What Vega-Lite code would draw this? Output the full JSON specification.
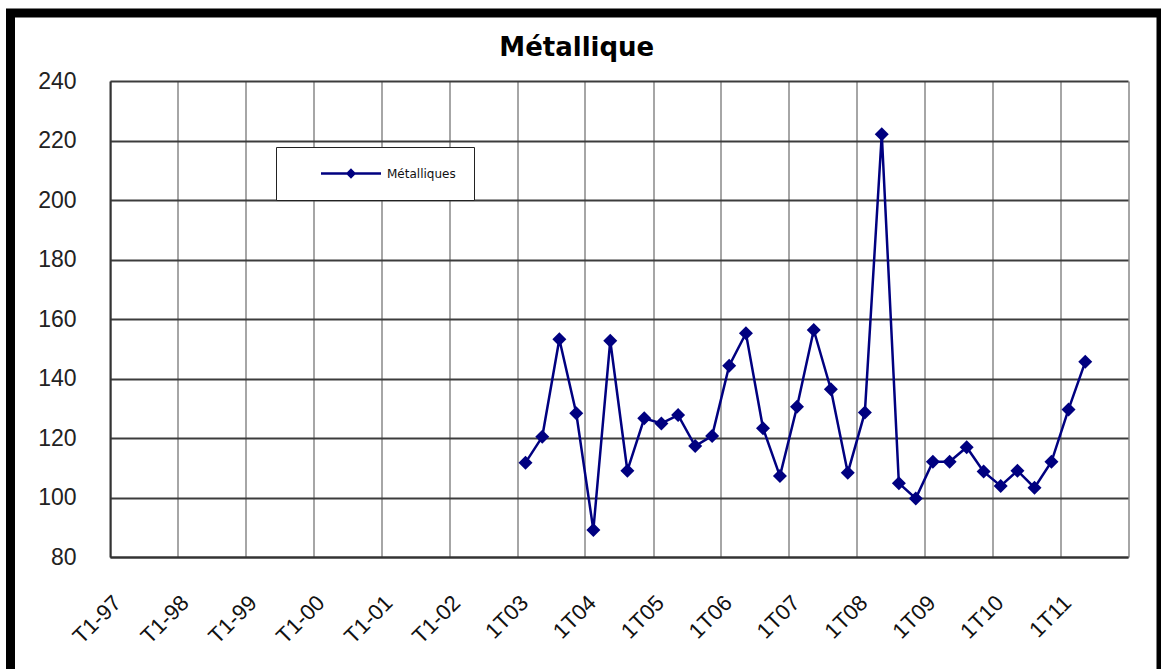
{
  "$schema": "https://vega.github.io/schema/vega-lite/v6.json",
  "autosize": "none",
  "width": 1150.5,
  "height": 666,
  "padding": {"left": 10.5, "top": 13, "right": 0, "bottom": -10},
  "background": "white",
  "title": {
    "text": "Métallique",
    "font": "DejaVu Sans",
    "fontSize": 26,
    "fontWeight": "bold",
    "color": "black",
    "anchor": "middle",
    "frame": "group",
    "offset": -48,
    "dx": -9
  },
  "data": {
    "values": [
      {"trimestre": "2003-02-15", "indice": 111.7, "serie": "Métalliques"},
      {"trimestre": "2003-05-16", "indice": 120.4, "serie": "Métalliques"},
      {"trimestre": "2003-08-16", "indice": 153.2, "serie": "Métalliques"},
      {"trimestre": "2003-11-15", "indice": 128.3, "serie": "Métalliques"},
      {"trimestre": "2004-02-15", "indice": 89.1, "serie": "Métalliques"},
      {"trimestre": "2004-05-16", "indice": 152.7, "serie": "Métalliques"},
      {"trimestre": "2004-08-16", "indice": 109.0, "serie": "Métalliques"},
      {"trimestre": "2004-11-15", "indice": 126.6, "serie": "Métalliques"},
      {"trimestre": "2005-02-15", "indice": 124.9, "serie": "Métalliques"},
      {"trimestre": "2005-05-16", "indice": 127.7, "serie": "Métalliques"},
      {"trimestre": "2005-08-16", "indice": 117.3, "serie": "Métalliques"},
      {"trimestre": "2005-11-15", "indice": 120.7, "serie": "Métalliques"},
      {"trimestre": "2006-02-15", "indice": 144.3, "serie": "Métalliques"},
      {"trimestre": "2006-05-16", "indice": 155.2, "serie": "Métalliques"},
      {"trimestre": "2006-08-16", "indice": 123.3, "serie": "Métalliques"},
      {"trimestre": "2006-11-15", "indice": 107.2, "serie": "Métalliques"},
      {"trimestre": "2007-02-15", "indice": 130.5, "serie": "Métalliques"},
      {"trimestre": "2007-05-16", "indice": 156.3, "serie": "Métalliques"},
      {"trimestre": "2007-08-16", "indice": 136.4, "serie": "Métalliques"},
      {"trimestre": "2007-11-15", "indice": 108.3, "serie": "Métalliques"},
      {"trimestre": "2008-02-15", "indice": 128.6, "serie": "Métalliques"},
      {"trimestre": "2008-05-16", "indice": 222.1, "serie": "Métalliques"},
      {"trimestre": "2008-08-16", "indice": 104.8, "serie": "Métalliques"},
      {"trimestre": "2008-11-15", "indice": 99.7, "serie": "Métalliques"},
      {"trimestre": "2009-02-15", "indice": 112.0, "serie": "Métalliques"},
      {"trimestre": "2009-05-16", "indice": 112.0, "serie": "Métalliques"},
      {"trimestre": "2009-08-16", "indice": 116.9, "serie": "Métalliques"},
      {"trimestre": "2009-11-15", "indice": 108.7, "serie": "Métalliques"},
      {"trimestre": "2010-02-15", "indice": 103.9, "serie": "Métalliques"},
      {"trimestre": "2010-05-16", "indice": 109.0, "serie": "Métalliques"},
      {"trimestre": "2010-08-16", "indice": 103.3, "serie": "Métalliques"},
      {"trimestre": "2010-11-15", "indice": 112.0, "serie": "Métalliques"},
      {"trimestre": "2011-02-15", "indice": 129.6, "serie": "Métalliques"},
      {"trimestre": "2011-05-16", "indice": 145.6, "serie": "Métalliques"}
    ]
  },
  "mark": {
    "type": "line",
    "strokeWidth": 2.5,
    "point": {"shape": "diamond", "size": 196, "filled": true, "opacity": 1}
  },
  "encoding": {
    "x": {
      "field": "trimestre",
      "type": "temporal",
      "scale": {
        "type": "utc",
        "domain": [
          {"year": 1997, "month": 1, "date": 1, "utc": true},
          {"year": 2012, "month": 1, "date": 1, "utc": true}
        ],
        "range": [99.5, 1117.5],
        "nice": false
      },
      "axis": {
        "title": null,
        "orient": "top",
        "offset": -544,
        "values": [
          {"year": 1997, "month": 1, "date": 1, "utc": true},
          {"year": 1998, "month": 1, "date": 1, "utc": true},
          {"year": 1999, "month": 1, "date": 1, "utc": true},
          {"year": 2000, "month": 1, "date": 1, "utc": true},
          {"year": 2001, "month": 1, "date": 1, "utc": true},
          {"year": 2002, "month": 1, "date": 1, "utc": true},
          {"year": 2003, "month": 1, "date": 1, "utc": true},
          {"year": 2004, "month": 1, "date": 1, "utc": true},
          {"year": 2005, "month": 1, "date": 1, "utc": true},
          {"year": 2006, "month": 1, "date": 1, "utc": true},
          {"year": 2007, "month": 1, "date": 1, "utc": true},
          {"year": 2008, "month": 1, "date": 1, "utc": true},
          {"year": 2009, "month": 1, "date": 1, "utc": true},
          {"year": 2010, "month": 1, "date": 1, "utc": true},
          {"year": 2011, "month": 1, "date": 1, "utc": true},
          {"year": 2012, "month": 1, "date": 1, "utc": true}
        ],
        "labelExpr": "utcyear(datum.value) >= 2012 ? '' : (utcyear(datum.value) < 2003 ? 'T1-' : '1T') + utcFormat(datum.value, '%y')",
        "labelAngle": -45,
        "labelAlign": "right",
        "labelBaseline": "middle",
        "labelPadding": -42,
        "labelOffset": 7,
        "labelFont": "Liberation Sans",
        "labelFontSize": 22,
        "labelColor": "#111111",
        "labelOverlap": false,
        "labelFlush": false,
        "labelBound": false,
        "ticks": false,
        "tickSize": 0,
        "domain": true,
        "domainColor": "#333333",
        "domainWidth": 2,
        "grid": true,
        "gridColor": "#a6a6a6",
        "gridWidth": 2
      }
    },
    "y": {
      "field": "indice",
      "type": "quantitative",
      "scale": {"domain": [80, 240], "range": [544, 68], "nice": false, "zero": false},
      "axis": {
        "title": null,
        "offset": -99.5,
        "values": [80, 100, 120, 140, 160, 180, 200, 220, 240],
        "labelPadding": 34,
        "labelFont": "Liberation Sans",
        "labelFontSize": 23,
        "labelColor": "#222222",
        "labelFlush": false,
        "ticks": false,
        "domain": true,
        "domainColor": "#333333",
        "domainWidth": 2,
        "grid": true,
        "gridColor": "#3c3c3c",
        "gridWidth": 2
      }
    },
    "color": {
      "field": "serie",
      "type": "nominal",
      "scale": {"range": ["#000080"]},
      "legend": {
        "title": null,
        "orient": "none",
        "legendX": 265.5,
        "legendY": 134,
        "padding": 17.5,
        "fillColor": "white",
        "strokeColor": "#222222",
        "symbolType": "M-4,0H4M0,-0.45L0.45,0L0,0.45L-0.45,0Z",
        "symbolSize": 225,
        "symbolStrokeWidth": 2.5,
        "symbolFillColor": "#000080",
        "symbolStrokeColor": "#000080",
        "symbolOffset": 48.5,
        "labelOffset": 27,
        "labelExpr": "datum.label + '\u00a0\u00a0\u00a0\u00a0'",
        "labelFont": "DejaVu Sans",
        "labelFontSize": 12,
        "labelColor": "#111111"
      }
    }
  },
  "config": {
    "view": {"fill": "white", "stroke": "black", "strokeWidth": 9},
    "font": "Liberation Sans"
  }
}
